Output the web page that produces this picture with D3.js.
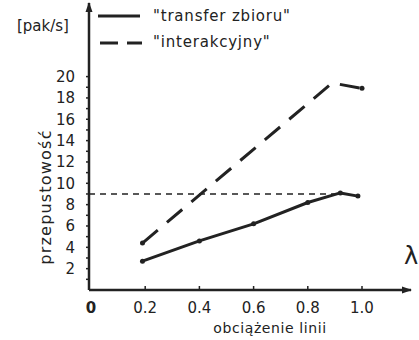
<!doctype html>
<html lang="pl">
<head>
<meta charset="UTF-8">
<title>przepustowość</title>
<script src="https://d3js.org/d3.v7.min.js"></script>
<style>
  html, body { margin: 0; padding: 0; background: #fff; }
  svg text { font-family: "DejaVu Sans", sans-serif; fill: #222; }
</style>
</head>
<body>
<svg id="chart" width="419" height="340"></svg>
<script>
// dane
var transferX = [0.19, 0.4, 0.6, 0.8, 0.92, 0.985];
var transferY = [2.7, 4.6, 6.2, 8.2, 9.1, 8.8];
var interX = [0.19, 0.89, 1.0];
var interY = [4.4, 19.4, 18.9];
var limitY = 9.0;
var xTicks = [0.2, 0.4, 0.6, 0.8, 1.0];
var xTickLabels = ["0.2", "0.4", "0.6", "0.8", "1.0"];
var yTicks = [2, 4, 6, 8, 10, 12, 14, 16, 18, 20];
var seriesNames = ['"transfer zbioru"', '"interakcyjny"'];

var ink = "#222";
var svg = d3.select("#chart");

var x = d3.scaleLinear().domain([0, 1]).range([91, 362]);
var y = d3.scaleLinear().domain([0, 20]).range([290, 76.6]);

var x0 = x(0) - 2, y0 = y(0);

// osie ze strzałkami
svg.append("defs").append("marker")
    .attr("id", "arrow")
    .attr("viewBox", "0 0 10 10")
    .attr("refX", 9).attr("refY", 5)
    .attr("markerWidth", 4).attr("markerHeight", 4)
    .attr("orient", "auto")
  .append("path")
    .attr("d", "M0,1.5 L10,5 L0,8.5 Z")
    .attr("fill", ink);

svg.append("line")
    .attr("x1", x0).attr("y1", y0)
    .attr("x2", x0).attr("y2", 3)
    .attr("stroke", ink).attr("stroke-width", 2.5)
    .attr("marker-end", "url(#arrow)");

svg.append("line")
    .attr("x1", x0).attr("y1", y0)
    .attr("x2", 411).attr("y2", y0)
    .attr("stroke", ink).attr("stroke-width", 2.5)
    .attr("marker-end", "url(#arrow)");

// podziałka osi Y (co 1)
svg.selectAll(".ytick")
    .data(d3.range(1, 21))
  .enter().append("line")
    .attr("x1", x0 - 3).attr("x2", x0)
    .attr("y1", function(d) { return y(d); })
    .attr("y2", function(d) { return y(d); })
    .attr("stroke", ink).attr("stroke-width", 1.5);

svg.selectAll(".ylab")
    .data(yTicks)
  .enter().append("text")
    .attr("x", x0 - 14)
    .attr("y", function(d) { return y(d); })
    .attr("dy", "0.36em")
    .attr("text-anchor", "end")
    .attr("font-size", 15)
    .text(function(d) { return d; });

// podziałka osi X
svg.selectAll(".xtick")
    .data(xTicks)
  .enter().append("line")
    .attr("x1", function(d) { return x(d); })
    .attr("x2", function(d) { return x(d); })
    .attr("y1", y0).attr("y2", y0 - 4)
    .attr("stroke", ink).attr("stroke-width", 1.5);

svg.selectAll(".xlab")
    .data(xTicks)
  .enter().append("text")
    .attr("x", function(d) { return x(d); })
    .attr("y", 313)
    .attr("text-anchor", "middle")
    .attr("font-size", 15)
    .text(function(d, i) { return xTickLabels[i]; });

svg.append("text")
    .attr("x", x(0)).attr("y", 313)
    .attr("text-anchor", "middle")
    .attr("font-size", 15)
    .attr("font-weight", "bold")
    .text("0");

// opisy osi
svg.append("text")
    .attr("x", 270).attr("y", 333)
    .attr("text-anchor", "middle")
    .attr("font-size", 14)
    .attr("letter-spacing", 0.6)
    .text("obciążenie linii");

svg.append("text")
    .attr("x", 411).attr("y", 264)
    .attr("text-anchor", "middle")
    .attr("font-size", 24)
    .text("λ");

svg.append("text")
    .attr("transform", "translate(51,197) rotate(-90)")
    .attr("text-anchor", "middle")
    .attr("font-size", 16)
    .attr("letter-spacing", 1.2)
    .text("przepustowość");

svg.append("text")
    .attr("x", 43).attr("y", 31)
    .attr("text-anchor", "middle")
    .attr("font-size", 15)
    .text("[pak/s]");

// linia pozioma (granica)
svg.append("line")
    .attr("x1", x0).attr("x2", x(0.92))
    .attr("y1", y(limitY)).attr("y2", y(limitY))
    .attr("stroke", ink).attr("stroke-width", 1.5)
    .attr("stroke-dasharray", "6,5");

// serie
var line = d3.line()
    .x(function(d) { return x(d[0]); })
    .y(function(d) { return y(d[1]); });

var transfer = d3.zip(transferX, transferY);
var inter = d3.zip(interX, interY);

svg.append("path")
    .datum(transfer)
    .attr("d", line)
    .attr("fill", "none")
    .attr("stroke", ink).attr("stroke-width", 3)
    .attr("stroke-linejoin", "round");

svg.append("path")
    .datum(inter)
    .attr("d", line)
    .attr("fill", "none")
    .attr("stroke", ink).attr("stroke-width", 3)
    .attr("stroke-dasharray", "20,12");

svg.selectAll(".pt")
    .data(transfer.concat([inter[0], inter[2]]))
  .enter().append("circle")
    .attr("cx", function(d) { return x(d[0]); })
    .attr("cy", function(d) { return y(d[1]); })
    .attr("r", 2.5)
    .attr("fill", ink);

// legenda
var legend = svg.append("g");
legend.append("line")
    .attr("x1", 98).attr("x2", 140)
    .attr("y1", 16).attr("y2", 16)
    .attr("stroke", ink).attr("stroke-width", 3);
legend.append("line")
    .attr("x1", 100).attr("x2", 142)
    .attr("y1", 43).attr("y2", 43)
    .attr("stroke", ink).attr("stroke-width", 3)
    .attr("stroke-dasharray", "18,9");

legend.selectAll("text")
    .data(seriesNames)
  .enter().append("text")
    .attr("x", 153)
    .attr("y", function(d, i) { return 21 + i * 26; })
    .attr("font-size", 15)
    .attr("letter-spacing", 0.8)
    .text(function(d) { return d; });
</script>
</body>
</html>
